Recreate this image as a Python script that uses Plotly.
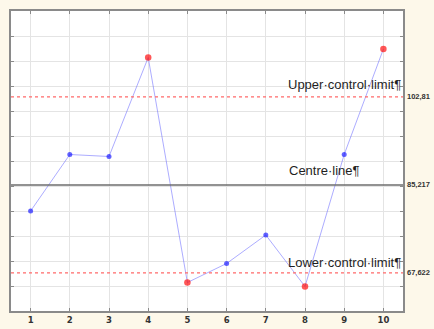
import plotly.graph_objects as go

# Sample numbers and measured values
samples = [1, 2, 3, 4, 5, 6, 7, 8, 9, 10]
values = [80.0, 91.3, 90.9, 110.7, 65.7, 69.5, 75.2, 64.9, 91.3, 112.4]

# Control chart limits
ucl = 102.81
centre = 85.217
lcl = 67.622

ucl_label = "102,81"
centre_label = "85,217"
lcl_label = "67,622"

out_of_control = [v > ucl or v < lcl for v in values]
marker_colors = ["#ff1010" if o else "#2020ff" for o in out_of_control]
marker_sizes = [6.5 if o else 5 for o in out_of_control]

fig = go.Figure()

# Control limit lines across the full sample range
fig.add_hline(y=ucl, line=dict(color="#ff6a6a", width=1.2, dash="dot"))
fig.add_hline(y=lcl, line=dict(color="#ff6a6a", width=1.2, dash="dot"))
fig.add_hline(y=centre, line=dict(color="#6e6e6e", width=1.5))

fig.add_trace(go.Scatter(
    x=samples, y=values, mode="lines+markers",
    line=dict(color="rgba(90,90,255,0.5)", width=1),
    marker=dict(color=marker_colors, size=marker_sizes, line=dict(width=0)),
    showlegend=False, hoverinfo="x+y",
))

text_font = dict(family="Liberation Sans, Arial, sans-serif", size=13, color="#1f1f1f")
value_font = dict(family="Liberation Sans, Arial, sans-serif", size=7.5, color="#333333", weight="bold")

labels = [
    ("Upper·control·limit¶", ucl, 3),
    ("Centre·line¶", centre, 5),
    ("Lower·control·limit¶", lcl, 1),
]
for text, yv, shift in labels:
    fig.add_annotation(x=10.5, y=yv, xref="x", yref="y", text=text, showarrow=False,
                       xanchor="right", yanchor="bottom", yshift=shift, font=text_font)
# Centre label sits over the right part of the chart
fig.layout.annotations[1].update(x=8.5, xanchor="center")

for text, yv in [(ucl_label, ucl), (centre_label, centre), (lcl_label, lcl)]:
    fig.add_annotation(x=1, y=yv, xref="paper", yref="y", text=text, showarrow=False,
                       xanchor="left", yanchor="middle", xshift=2, font=value_font)

axis_common = dict(
    showgrid=True, gridcolor="#e4e4e4", gridwidth=1,
    showline=True, linecolor="#8a8a8a", linewidth=2, mirror="ticks",
    ticks="inside", ticklen=3, tickcolor="#8a8a8a", zeroline=False,
    automargin=False,
)

fig.update_xaxes(range=[0.5, 10.5], tickvals=samples, ticktext=[str(s) for s in samples],
                 tickfont=dict(family="DejaVu Sans, Verdana, sans-serif", size=8.5,
                               color="#333333", weight="bold"),
                 **axis_common)
fig.update_yaxes(range=[60, 120], dtick=5, tick0=60, showticklabels=False, **axis_common)

fig.update_layout(
    width=434, height=329, autosize=False,
    margin=dict(l=11, r=31, t=11, b=18, pad=0),
    paper_bgcolor="#fdf8ea", plot_bgcolor="#ffffff",
)

fig.write_html("out.html")
